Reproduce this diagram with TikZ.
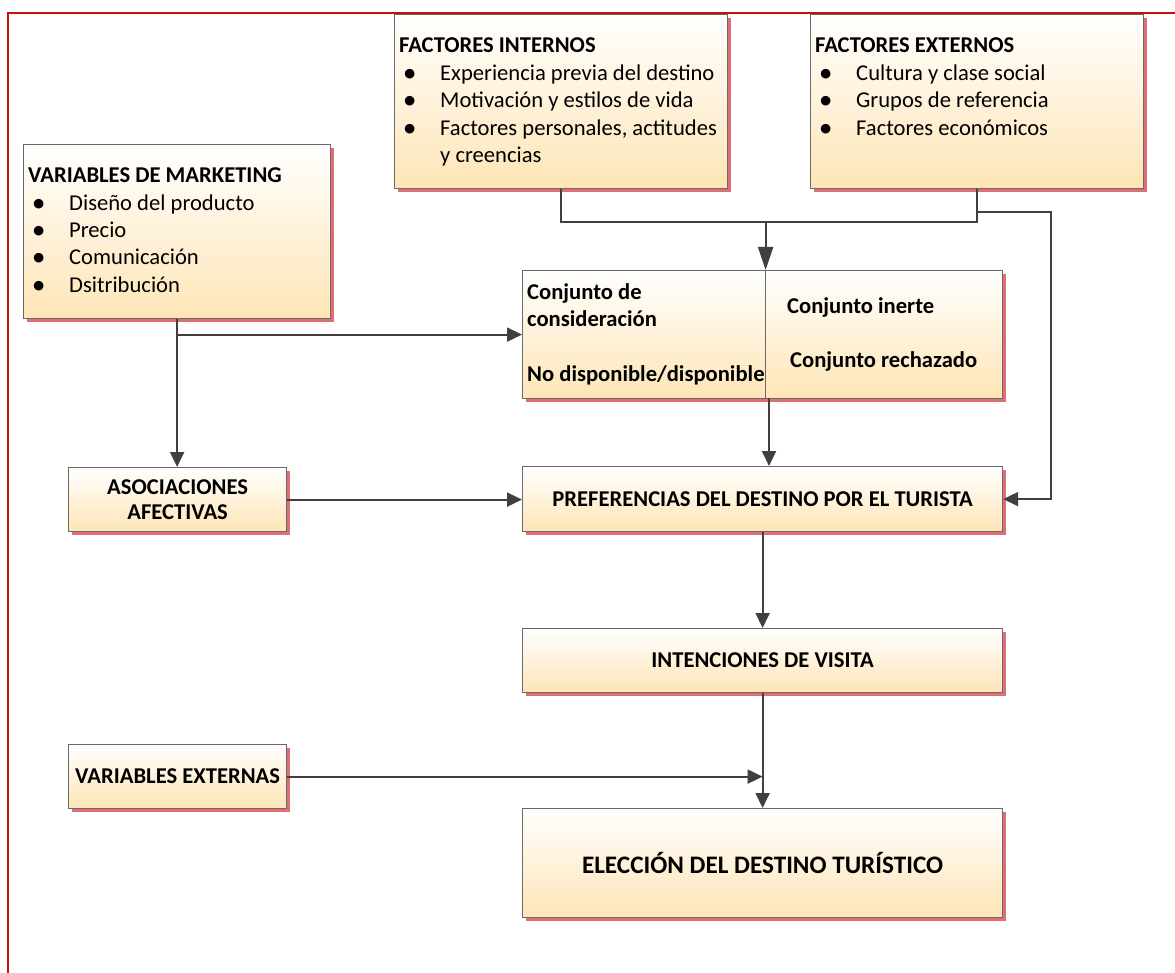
\documentclass[tikz,border=0pt]{standalone}
\usepackage{fontspec}
\setmainfont{Carlito}
\usetikzlibrary{arrows.meta,shadows}

\definecolor{boxbot}{RGB}{254,229,182}
\definecolor{boxedge}{RGB}{105,105,105}
\definecolor{shadowred}{RGB}{224,110,115}
\definecolor{linegray}{RGB}{64,64,64}
\definecolor{framered}{RGB}{200,16,16}

% bullet with its indent, as in the lists of factors
\newcommand\listdot{\hspace*{5pt}\makebox[36pt][l]{\textbf{•}}}
\newcommand\listcont{\hspace*{41pt}}

\tikzset{
  box/.style={draw=boxedge, line width=1.2pt, top color=white, bottom color=boxbot,
    general shadow={fill=shadowred, shadow xshift=3pt, shadow yshift=-3pt},
    inner sep=0pt, anchor=north west, align=center,
    font=\fontsize{22.6}{25}\selectfont\bfseries},
  listtext/.style={anchor=base west, inner sep=0pt},
  conn/.style={draw=linegray, line width=2pt},
  arrow/.style={conn, -{Triangle[length=15pt,width=14pt]}},
}

\begin{document}
\begin{tikzpicture}[x=1pt, y=-1pt]
\useasboundingbox (0,0) rectangle (1175,973);

% outer frame
\draw[framered, line width=2pt] (8,973) -- (8,13) -- (1175,13);

% ---- boxes ----
\node[box, minimum width=307, minimum height=174] (vm) at (23,144) {};
\node[box, minimum width=333, minimum height=174] (fi) at (394,14) {};
\node[box, minimum width=333, minimum height=174] (fe) at (810,14) {};
\node[box, minimum width=243, minimum height=128] (cleft) at (522,270) {};
\node[box, minimum width=237, minimum height=128] (cright) at (765,270) {};
\node[box, minimum width=218, minimum height=64] (asoc) at (68,467) {ASOCIACIONES\\AFECTIVAS};
\node[box, minimum width=480, minimum height=65] (pref) at (522,466) {PREFERENCIAS DEL DESTINO POR EL TURISTA};
\node[box, minimum width=480, minimum height=64] (intenc) at (522,628) {INTENCIONES DE VISITA};
\node[box, minimum width=218, minimum height=64] (varext) at (68,744) {VARIABLES EXTERNAS};
\node[box, minimum width=480, minimum height=109, font=\fontsize{25.2}{28}\selectfont\bfseries] (elec) at (522,808) {ELECCIÓN DEL DESTINO TURÍSTICO};

% ---- box contents ----
\node[listtext] (vmtext) at (28,183) {\begin{minipage}[t]{300pt}\fontsize{22.6}{27.3}\selectfont
  \textbf{VARIABLES DE MARKETING}\\
  \listdot Diseño del producto\\
  \listdot Precio\\
  \listdot Comunicación\\
  \listdot Dsitribución\end{minipage}};

\node[listtext] (fitext) at (399,53) {\begin{minipage}[t]{325pt}\fontsize{22.6}{27.5}\selectfont
  \textbf{FACTORES INTERNOS}\\
  \listdot Experiencia previa del destino\\
  \listdot Motivación y estilos de vida\\
  \listdot Factores personales, actitudes\\
  \listcont y creencias\end{minipage}};

\node[listtext] (fetext) at (815,53) {\begin{minipage}[t]{325pt}\fontsize{22.6}{27.5}\selectfont
  \textbf{FACTORES EXTERNOS}\\
  \listdot Cultura y clase social\\
  \listdot Grupos de referencia\\
  \listdot Factores económicos\end{minipage}};

\node[listtext] (cltext) at (527,300) {\begin{minipage}[t]{240pt}\fontsize{22.6}{27}\selectfont\bfseries
  Conjunto de\\
  consideración\\[28pt]
  No disponible/disponible\end{minipage}};

\node[listtext, font=\fontsize{22.6}{27}\selectfont\bfseries] (inerte) at (787,314) {Conjunto inerte};
\node[listtext, font=\fontsize{22.6}{27}\selectfont\bfseries] (rechazo) at (790,368) {Conjunto rechazado};

% ---- connectors ----
\coordinate (merge) at (765.6,222);
\draw[conn] (fi.south) |- (merge) -| (fe.south);
\draw[conn, -{Triangle[length=23pt,width=15pt]}] (merge) -- (merge |- cleft.north east);

\coordinate (fetap) at (976,212);
\coordinate (fecorner) at (1051,212);
\draw[arrow] (fetap) -- (fecorner) |- (pref.east);

\coordinate (vmtap) at (vm.south |- cleft.west);
\draw[arrow] (vm.south) -- (vm.south |- asoc.north);
\draw[arrow] (vmtap) -- (cleft.west);

\coordinate (cout) at (769,398);
\draw[arrow] (cout) -- (cout |- pref.north);

\draw[arrow] (asoc.east) -- (asoc.east -| pref.west);
\draw[arrow] (pref.south) -- (intenc.north);
\draw[arrow] (intenc.south) -- (elec.north);
\draw[arrow] (varext.east) -- (varext.east -| intenc.south);
\end{tikzpicture}
\end{document}
